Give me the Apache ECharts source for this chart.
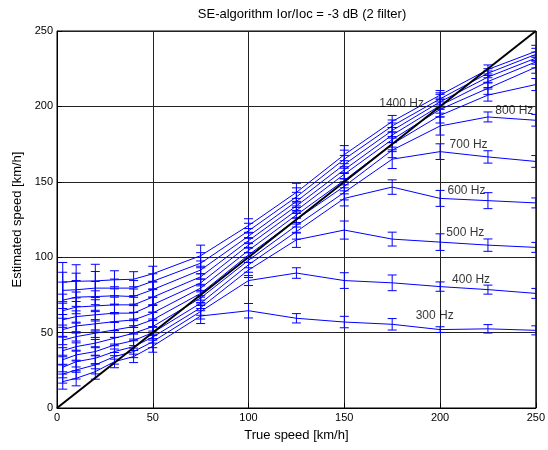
<!DOCTYPE html>
<html>
<head>
<meta charset="utf-8">
<script src="https://cdn.jsdelivr.net/npm/echarts@6/dist/echarts.min.js"></script>
<style>
  html, body { margin: 0; padding: 0; background: #fff; }
  #chart { width: 548px; height: 450px; }
</style>
</head>
<body>
<div id="chart"></div>
<script>
// true speed points [km/h]
const xs = [3, 10, 20, 30, 40, 50, 75, 100, 125, 150, 175, 200, 225, 250];

// estimated speed per filter
const v300  = [17.5, 19.7, 24.1, 30.7, 34.1, 41, 61, 64.5, 59.5, 57, 55.5, 52, 52.5, 51.5];
const v400  = [22.5, 25.2, 28.6, 34.1, 37.4, 44, 64, 84.5, 89.5, 84.5, 83, 80.5, 78.5, 76];
const v500  = [27, 30.7, 33, 37.4, 40.7, 47, 66.5, 91.5, 111.5, 118, 112, 110, 108, 106.5];
const v600  = [32, 35.2, 37.4, 41.8, 44.7, 50, 69.5, 95, 117, 139, 146.5, 139, 137.5, 136];
const v700  = [38, 40.7, 43, 46.3, 49.6, 54, 73, 98, 121, 143, 165, 170, 166.5, 163.5];
const v800  = [45, 47.3, 49.6, 51.8, 54, 58.5, 76, 101.5, 125, 147, 171, 187, 193, 190.8];
const v900  = [52, 54.4, 55.8, 57.3, 58.4, 63, 79.5, 104.5, 128, 151, 175, 194, 207.5, 214.5];
const v1000 = [58.5, 60.6, 61.8, 62.9, 62.9, 68.5, 83, 108, 131, 155, 178, 198, 212, 226];
const v1100 = [64.5, 66.9, 67.7, 68.4, 68.4, 73.5, 87, 111, 134, 158, 181, 200.5, 216.5, 229.5];
const v1200 = [71.5, 73.5, 73.9, 74.4, 73.9, 78.5, 91.5, 114, 137, 161.5, 184, 203, 219.5, 232];
const v1300 = [78, 78.4, 79.5, 79.5, 79.5, 84, 96, 117.5, 140, 165, 187, 205, 222, 234.5];
const v1400 = [83.5, 84, 84.3, 85, 85.4, 89, 101, 121, 143, 168, 190, 207.5, 224.5, 236.5];

// half length of error bars
const e300  = [5, 5, 5, 4, 4, 4, 5, 4.8, 3.1, 3.8, 3.8, 1.9, 2.8, 3];
const e400  = [6, 6, 6, 5, 4, 4, 5, 3.3, 3.5, 5.2, 5.2, 3.1, 3, 3.3];
const e500  = [7, 7, 7, 5, 5, 4, 5, 5, 5, 6, 4.6, 5.5, 4.1, 3.3];
const e600  = [8, 8, 8, 5, 5, 4, 5, 5, 5, 5, 4.8, 5.3, 5.3, 3.3];
const e700  = [9, 9, 8, 5, 5, 5, 5, 5, 5, 5, 6.2, 5.2, 4.1, 3.9];
const e800  = [10, 9, 9, 5, 5, 5, 6, 5, 5, 5, 5, 6, 3.3, 3.9];
const e900  = [10, 10, 9, 6, 5, 5, 6, 5, 5, 5, 5, 5, 4, 4];
const e1000 = [11, 10, 10, 6, 5, 5, 6, 5, 5, 5, 5, 5, 4, 4];
const e1100 = [11, 10, 10, 6, 5, 5, 6, 5, 5, 6, 5, 5, 4, 4];
const e1200 = [12, 11, 10, 6, 5, 5, 6, 5, 6, 6, 5, 5, 4, 4];
const e1300 = [12, 11, 11, 6, 5, 5, 7, 5, 6, 6, 4, 4, 3, 4];
const e1400 = [13, 11, 11, 6, 5, 5, 7, 4.5, 6, 6, 4, 3, 3, 4];

const filterNames = ['300 Hz', '400 Hz', '500 Hz', '600 Hz', '700 Hz', '800 Hz',
    '900 Hz', '1000 Hz', '1100 Hz', '1200 Hz', '1300 Hz', '1400 Hz'];
const values = [v300, v400, v500, v600, v700, v800, v900, v1000, v1100, v1200, v1300, v1400];
const errors = [e300, e400, e500, e600, e700, e800, e900, e1000, e1100, e1200, e1300, e1400];

// text labels on the plot (data coordinates of the left edge)
const labelNames = ['1400 Hz', '800 Hz', '700 Hz', '600 Hz', '500 Hz', '400 Hz', '300 Hz'];
const labelX = [168, 228.6, 204.7, 203.6, 203, 206, 187];
const labelY = [202, 197, 174.6, 144, 116, 85, 61];

const blue = '#0000ff';

function renderErr(params, api) {
    const x = api.value(0), y = api.value(1), e = api.value(2);
    const lo = api.coord([x, y - e]), hi = api.coord([x, y + e]);
    const w = 4.5;
    const seg = (x1, y1, x2, y2) => ({
        type: 'line',
        shape: { x1: x1, y1: y1, x2: x2, y2: y2 },
        style: { stroke: blue, lineWidth: 1, fill: null },
    });
    return {
        type: 'group',
        children: [
            seg(lo[0], lo[1], hi[0], hi[1]),
            seg(lo[0] - w, lo[1], lo[0] + w, lo[1]),
            seg(hi[0] - w, hi[1], hi[0] + w, hi[1]),
        ],
    };
}

const seriesData = [];
values.forEach((vals, i) => {
    seriesData.push({
        name: filterNames[i],
        type: 'line',
        data: xs.map((x, j) => [x, vals[j]]),
        symbol: 'none',
        lineStyle: { color: blue, width: 1 },
        z: 2,
    });
    seriesData.push({
        name: filterNames[i] + ' err',
        type: 'custom',
        renderItem: renderErr,
        itemStyle: { color: blue },
        data: xs.map((x, j) => [x, vals[j], errors[i][j]]),
        clip: true,
        z: 2,
    });
});
// ideal estimate
seriesData.push({
    name: 'true',
    type: 'line',
    data: [[0, 0], [250, 250]],
    symbol: 'none',
    lineStyle: { color: '#000', width: 2 },
    z: 3,
});
seriesData.push({
    name: 'labels',
    type: 'scatter',
    symbolSize: 1,
    itemStyle: { color: 'rgba(0,0,0,0)' },
    data: labelNames.map((n, i) => ({ name: n, value: [labelX[i], labelY[i]] })),
    label: {
        show: true,
        position: 'right',
        distance: 0,
        formatter: '{b}',
        color: '#000',
        fontSize: 12,
        fontFamily: 'Liberation Sans',
    },
    z: 4,
});

const axisCommon = {
    type: 'value',
    min: 0,
    max: 250,
    interval: 50,
    nameLocation: 'middle',
    nameTextStyle: { color: '#000', fontSize: 13, fontFamily: 'Liberation Sans' },
    axisLine: { show: true, lineStyle: { color: '#000', width: 1 } },
    axisTick: { show: true, inside: true, length: 5, lineStyle: { color: '#000' } },
    axisLabel: { color: '#000', fontSize: 11, fontFamily: 'Liberation Sans', margin: 4 },
    splitLine: { show: true, lineStyle: { color: '#222', width: 1 } },
};

const option = {
    animation: false,
    backgroundColor: '#fff',
    title: {
        text: 'SE-algorithm Ior/Ioc = -3 dB (2 filter)',
        left: 297,
        top: 3,
        textAlign: 'center',
        textStyle: { color: '#000', fontSize: 13, fontWeight: 'normal', fontFamily: 'Liberation Sans' },
    },
    grid: {
        left: 57,
        right: 11,
        top: 31,
        bottom: 42,
        show: true,
        borderColor: '#000',
        borderWidth: 1,
        backgroundColor: '#fff',
    },
    xAxis: Object.assign({}, axisCommon, {
        name: 'True speed [km/h]',
        nameGap: 21,
    }),
    yAxis: Object.assign({}, axisCommon, {
        name: 'Estimated speed [km/h]',
        nameGap: 30,
    }),
    series: seriesData,
};

const myChart = echarts.init(document.getElementById('chart'));
myChart.setOption(option);
</script>
</body>
</html>
